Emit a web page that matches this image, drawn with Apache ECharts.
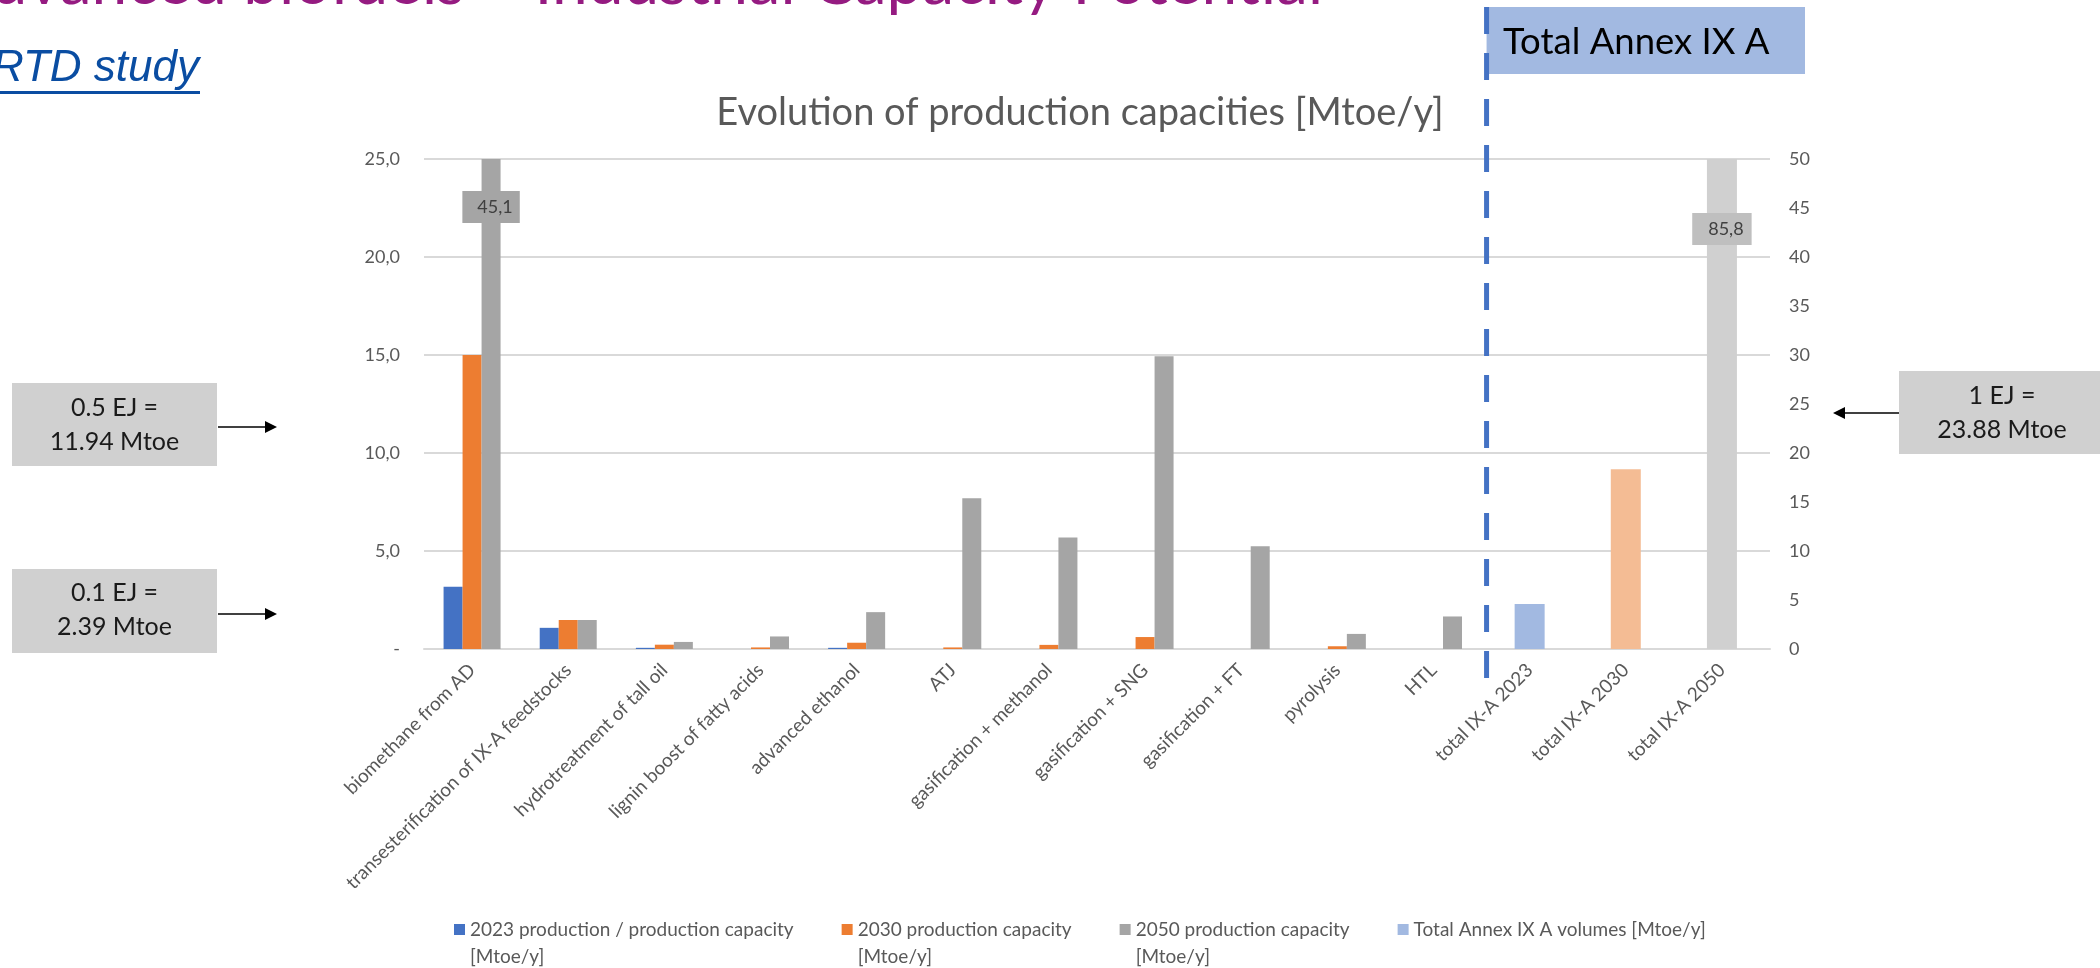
<!DOCTYPE html>
<html>
<head>
<meta charset="utf-8">
<script src="https://cdn.jsdelivr.net/npm/echarts@6/dist/echarts.min.js"></script>
<style>
html,body{margin:0;padding:0;background:#ffffff;}
#c{width:2100px;height:968px;}
</style>
</head>
<body>
<div id="c"></div>
<script>
// ---------------- data ----------------
const categories = [
  'biomethane from AD',
  'transesterification of IX-A feedstocks',
  'hydrotreatment of tall oil',
  'lignin boost of fatty acids',
  'advanced ethanol',
  'ATJ',
  'gasification + methanol',
  'gasification + SNG',
  'gasification + FT',
  'pyrolysis',
  'HTL',
  'total IX-A 2023',
  'total IX-A 2030',
  'total IX-A 2050'
];
const cap2023 = [3.17, 1.08, 0.06, null, 0.06, null, null, null, null, null, null, null, null, null];
const cap2030 = [15.0, 1.48, 0.22, 0.08, 0.32, 0.08, 0.21, 0.61, null, 0.14, null, null, null, null];
const cap2050 = [45.1, 1.48, 0.36, 0.64, 1.88, 7.69, 5.69, 14.93, 5.24, 0.77, 1.66, null, null, null];
const totalAnnex = [null, null, null, null, null, null, null, null, null, null, null, 4.58, 18.35, 85.8];
const seriesNames = [
  '2023 production / production capacity [Mtoe/y]',
  '2030 production capacity [Mtoe/y]',
  '2050 production capacity [Mtoe/y]',
  'Total Annex IX A volumes [Mtoe/y]'
];
const leftTicks = { min: 0, max: 25, interval: 5 };
const rightTicks = { min: 0, max: 50, interval: 5 };
const labelledIn2050 = [0];      // category index whose 2050 bar carries a value box
const labelledInTotal = [13];    // category index whose total bar carries a value box

// ---------------- styles ----------------
const FONT = 'Lato, "Open Sans", "Noto Sans", sans-serif';
const seriesColors = ['#4472C4', '#ED7D31', '#A5A5A5', '#A2B9E1'];
const totalColors = { 11: '#A2B9E1', 12: '#F4BC94', 13: '#D0D0D0' };
const AX = '#595959';
const GRID = '#D9D9D9';
const fmtComma = v => v.toFixed(1).replace('.', ',');

const chart = echarts.init(document.getElementById('c'), null, { renderer: 'canvas', width: 2100, height: 968 });

const data2050 = cap2050.map((v, i) => labelledIn2050.includes(i) ? {
  value: v,
  label: {
    show: true, position: 'insideTop', distance: 32,
    formatter: p => fmtComma(p.value),
    backgroundColor: '#A5A5A5', padding: [7, 7, 7, 15],
    color: '#404040', fontSize: 18, fontFamily: FONT
  }
} : v);

const dataTotal = totalAnnex.map((v, i) => {
  if (v == null) return v;
  const item = { value: v, itemStyle: { color: totalColors[i] } };
  if (labelledInTotal.includes(i)) {
    item.label = {
      show: true, position: 'insideTop', distance: 54,
      formatter: p => fmtComma(p.value),
      backgroundColor: '#BFBFBF', padding: [7, 8, 7, 16],
      color: '#404040', fontSize: 18, fontFamily: FONT
    };
  }
  return item;
});

// legend square sits at the top of a taller (invisible) icon box so it lines up with the first text line
const LEGEND_ICON = 'path://M0,0H11V11H0Z M0,37.99H0.01V38H0Z';

const option = {
  backgroundColor: '#ffffff',
  animation: false,
  textStyle: { fontFamily: FONT },
  title: {
    text: 'Evolution of production capacities [Mtoe/y]',
    left: 1075, top: 89, textAlign: 'center',
    textStyle: { fontFamily: FONT, fontSize: 38, fontWeight: 'normal', color: '#595959' }
  },
  legend: {
    left: 449, top: 911, padding: 5,
    itemWidth: 11, itemHeight: 38, itemGap: 48,
    icon: LEGEND_ICON,
    formatter: n => n.indexOf('capacity') >= 0 ? n.replace(' [', '\n[') : n + '\n',
    textStyle: { fontFamily: FONT, fontSize: 19, color: '#595959', lineHeight: 27 },
    data: seriesNames
  },
  grid: { left: 424, right: 330, top: 159, bottom: 319 },
  xAxis: [
    {
      type: 'category', data: categories,
      axisTick: { show: false },
      axisLine: { lineStyle: { color: GRID, width: 2 } },
      axisLabel: { interval: 0, rotate: 45, margin: 18, fontSize: 19, color: AX, fontFamily: FONT }
    },
    { type: 'category', data: categories, show: false }
  ],
  yAxis: [
    {
      type: 'value', min: leftTicks.min, max: leftTicks.max, interval: leftTicks.interval,
      axisLine: { show: false }, axisTick: { show: false },
      splitLine: { lineStyle: { color: GRID, width: 2 } },
      axisLabel: { margin: 24, fontSize: 18, color: AX, fontFamily: FONT,
        formatter: v => v === 0 ? '-' : fmtComma(v) }
    },
    {
      type: 'value', position: 'right', min: rightTicks.min, max: rightTicks.max, interval: rightTicks.interval,
      axisLine: { show: false }, axisTick: { show: false }, splitLine: { show: false },
      axisLabel: { margin: 19, fontSize: 18, color: AX, fontFamily: FONT }
    }
  ],
  series: [
    { name: seriesNames[0], type: 'bar', xAxisIndex: 0, yAxisIndex: 0, data: cap2023,
      barWidth: 19, barGap: '0%', itemStyle: { color: seriesColors[0] } },
    { name: seriesNames[1], type: 'bar', xAxisIndex: 0, yAxisIndex: 0, data: cap2030,
      barWidth: 19, barGap: '0%', itemStyle: { color: seriesColors[1] } },
    { name: seriesNames[2], type: 'bar', xAxisIndex: 0, yAxisIndex: 0, data: data2050,
      barWidth: 19, barGap: '0%', itemStyle: { color: seriesColors[2] } },
    { name: seriesNames[3], type: 'bar', xAxisIndex: 1, yAxisIndex: 1, data: dataTotal,
      barWidth: 30, itemStyle: { color: seriesColors[3] } }
  ]
};
chart.setOption(option);

// ---------------- annotations ----------------
const xHTL = chart.convertToPixel({ xAxisIndex: 0 }, categories[10]);
const xTot = chart.convertToPixel({ xAxisIndex: 0 }, categories[11]);
const sepX = (xHTL + xTot) / 2 + 5;

function arrow(x1, x2, y, color) {
  const dir = x2 > x1 ? 1 : -1;
  return [
    { type: 'line', shape: { x1: x1, y1: y, x2: x2 - dir * 10, y2: y }, style: { stroke: color, lineWidth: 1.6 } },
    { type: 'polygon', shape: { points: [[x2, y], [x2 - dir * 12, y - 6], [x2 - dir * 12, y + 6]] }, style: { fill: color } }
  ];
}

const graphics = [
  // page heading (cut at top edge)
  { type: 'text', right: 2100 - 1323, top: -49, style: {
      text: 'Advanced biofuels \u2013 Industrial Capacity Potential',
      font: 'normal 64px ' + FONT, fill: '#951B81' } },
  // source link
  { type: 'text', left: -8, top: 47, style: {
      text: 'RTD study', font: 'italic 44px "Liberation Sans", Arial, sans-serif', fill: '#0A4DA2' } },
  { type: 'rect', shape: { x: 0, y: 91, width: 200, height: 3 }, style: { fill: '#0A4DA2' } },
  // Total Annex IX A box
  { type: 'rect', shape: { x: sepX, y: 7, width: 1805 - sepX, height: 67 }, style: { fill: '#A2B9E1' } },
  { type: 'text', left: 1503, top: 24, style: { text: 'Total Annex IX A', font: 'normal 36.5px ' + FONT, fill: '#000000' } },
  // separator dashed line
  { type: 'line', shape: { x1: sepX, y1: 7, x2: sepX, y2: 680 },
    style: { stroke: '#4472C4', lineWidth: 5, lineDash: [27, 19] }, z: 100 },
  // EJ boxes
  { type: 'rect', shape: { x: 12, y: 383, width: 205, height: 83 }, style: { fill: '#D0D0D0' } },
  { type: 'text', style: { x: 114.5, y: 425, text: '0.5 EJ =\n11.94 Mtoe', font: 'normal 25px ' + FONT,
      lineHeight: 34, fill: '#1A1A1A', align: 'center', verticalAlign: 'middle' } },
  { type: 'rect', shape: { x: 12, y: 569, width: 205, height: 84 }, style: { fill: '#D0D0D0' } },
  { type: 'text', style: { x: 114.5, y: 610, text: '0.1 EJ =\n2.39 Mtoe', font: 'normal 25px ' + FONT,
      lineHeight: 34, fill: '#1A1A1A', align: 'center', verticalAlign: 'middle' } },
  { type: 'rect', shape: { x: 1899, y: 371, width: 210, height: 83 }, style: { fill: '#D0D0D0' } },
  { type: 'text', style: { x: 2002, y: 413, text: '1 EJ =\n23.88 Mtoe', font: 'normal 25px ' + FONT,
      lineHeight: 34, fill: '#1A1A1A', align: 'center', verticalAlign: 'middle' } }
]
  .concat(arrow(218, 277, 427, '#000000'))
  .concat(arrow(218, 277, 614, '#000000'))
  .concat(arrow(1899, 1833, 413, '#000000'));

chart.setOption({ graphic: graphics });
</script>
</body>
</html>
